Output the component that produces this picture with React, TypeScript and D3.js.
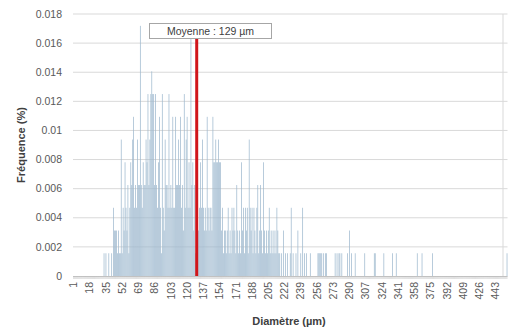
import React from "react";
import * as d3 from "d3";

// Diameter classes (µm), one bar per integer class
const firstDiameter = 1;
const lastDiameter = 455;
const sampleSize = 640;

// Non-empty classes and their particle counts (frequency = count / sampleSize)
const diameters = [
  33, 35, 38, 41, 43, 44, 45, 46, 47, 48, 49, 50, 51, 52, 53, 54, 55, 56, 57, 58, 59, 60,
  61, 62, 63, 64, 65, 66, 67, 68, 69, 70, 71, 72, 73, 74, 75, 76, 77, 78, 79, 80,
  81, 82, 83, 84, 85, 86, 87, 88, 89, 90, 91, 92, 93, 94, 95, 96, 97, 98, 99, 100,
  101, 102, 103, 104, 105, 106, 107, 108, 109, 110, 111, 112, 113, 114, 115, 116, 117, 118, 119, 120,
  121, 122, 123, 124, 125, 126, 127, 128, 129, 130, 131, 132, 133, 134, 135, 136, 137, 138, 139, 140,
  141, 142, 143, 144, 145, 146, 147, 148, 149, 150, 151, 152, 153, 154, 155, 156, 157, 158, 159, 160,
  161, 162, 163, 164, 165, 166, 167, 168, 169, 170, 171, 172, 173, 174, 175, 176, 177, 178, 179, 180,
  181, 182, 183, 184, 185, 186, 187, 188, 189, 190, 191, 192, 193, 194, 195, 196, 197, 198, 199, 200,
  201, 202, 203, 204, 205, 206, 207, 208, 209, 210, 211, 212, 213, 214, 215, 216, 217, 219, 221, 223,
  225, 228, 229, 231, 234, 236, 239, 241, 243, 245, 249, 257, 258, 259, 260, 261, 263, 265, 266,
  275, 277, 279, 280, 282, 288, 290, 292, 296, 306, 316, 317, 326, 335, 339, 361, 366, 377, 455,
];
const counts = [
  1, 1, 1, 1, 3, 2, 2, 2, 1, 2, 1, 1, 6, 1, 3, 2, 5, 3, 2, 4, 1, 3,
  5, 4, 6, 7, 3, 4, 3, 6, 4, 4, 11, 4, 3, 5, 4, 4, 6, 5, 8, 4,
  6, 8, 9, 8, 8, 4, 8, 4, 3, 5, 7, 3, 1, 8, 3, 2, 6, 4, 4, 3,
  8, 3, 4, 3, 7, 3, 3, 7, 4, 4, 6, 4, 7, 3, 4, 2, 8, 3, 6, 7,
  3, 5, 3, 11, 4, 5, 2, 4, 1, 2, 3, 2, 3, 5, 3, 6, 3, 2, 3, 2,
  7, 3, 2, 3, 3, 2, 7, 5, 5, 6, 5, 5, 6, 5, 5, 2, 3, 1, 2, 2,
  1, 2, 3, 1, 2, 1, 3, 2, 3, 2, 1, 4, 2, 1, 2, 1, 5, 2, 3, 1,
  3, 2, 3, 1, 6, 3, 2, 3, 1, 3, 2, 1, 3, 4, 1, 2, 4, 2, 1, 5,
  2, 1, 2, 1, 2, 3, 1, 2, 1, 2, 1, 2, 1, 3, 2, 1, 1, 1, 2, 1,
  1, 1, 3, 1, 1, 2, 1, 3, 1, 1, 1, 1, 1, 1, 1, 1, 1, 1, 1,
  1, 1, 1, 1, 1, 1, 2, 1, 1, 1, 1, 1, 1, 1, 1, 1, 1, 1, 1,
];

const yTicks = [0, 0.002, 0.004, 0.006, 0.008, 0.01, 0.012, 0.014, 0.016, 0.018];
const yTickLabels = ["0", "0.002", "0.004", "0.006", "0.008", "0.01", "0.012", "0.014", "0.016", "0.018"];
const xTickLabels = [1, 18, 35, 52, 69, 86, 103, 120, 137, 154, 171, 188, 205, 222, 239, 256, 273, 290, 307, 324, 341, 358, 375, 392, 409, 426, 443];
const meanDiameter = 129;
const meanLabel = "Moyenne : 129 µm";
const yTitle = "Fréquence (%)";
const xTitle = "Diamètre (µm)";

const W = 511;
const H = 327;
const left = 73;
const right = 507.5;
const top = 14;
const bottom = 276;
const font = "'Liberation Sans', Arial, sans-serif";

export default function App() {
  const classes = d3.range(firstDiameter, lastDiameter + 1);
  const x = d3.scaleBand<number>().domain(classes).range([left, right]).padding(0);
  const y = d3.scaleLinear().domain([0, 0.018]).range([bottom, top]);
  const bw = x.bandwidth();
  const cx = (d: number) => (x(d) as number) + bw / 2;

  return (
    <svg width={W} height={H} style={{ position: "absolute", left: 0, top: 0, background: "#fff" }}>
      {/* gridlines */}
      {yTicks.slice(1).map((t) => (
        <line key={"g" + t} x1={left} x2={right} y1={y(t)} y2={y(t)} stroke="#d9d9d9" strokeWidth={1} />
      ))}
      <line x1={right - 4.5} x2={right - 4.5} y1={top} y2={bottom} stroke="#d9d9d9" strokeWidth={1} />
      {/* bars */}
      {diameters.map((d, i) => (
        <rect
          key={"b" + d}
          x={(x(d) as number) + bw * 0.12}
          width={bw * 0.76}
          y={y(counts[i] / sampleSize)}
          height={bottom - y(counts[i] / sampleSize)}
          fill="#9db8ce"
        />
      ))}
      {/* x axis */}
      <line x1={left} x2={right} y1={bottom + 0.5} y2={bottom + 0.5} stroke="#bfbfbf" strokeWidth={1} />
      {classes.map((d) => (
        <line key={"t" + d} x1={cx(d)} x2={cx(d)} y1={bottom} y2={bottom + 3} stroke="#c4c4c4" strokeWidth={0.5} />
      ))}
      {xTickLabels.map((d) => (
        <text
          key={"xl" + d}
          transform={`translate(${cx(d)},${bottom + 6}) rotate(-90)`}
          textAnchor="end"
          dy="0.35em"
          fontFamily={font}
          fontSize={10.5}
          fill="#595959"
        >
          {d}
        </text>
      ))}
      {/* y labels */}
      {yTicks.map((t, i) => (
        <text key={"yl" + t} x={62} y={y(t)} dy="0.35em" textAnchor="end" fontFamily={font} fontSize={10.5} fill="#595959">
          {yTickLabels[i]}
        </text>
      ))}
      {/* mean line */}
      <line x1={cx(meanDiameter) + 1} x2={cx(meanDiameter) + 1} y1={bottom} y2={38} stroke="#d0161b" strokeWidth={3} />
      <rect x={149.5} y={23.5} width={122} height={15} fill="#fff" stroke="#a6a6a6" strokeWidth={1} />
      <text x={210.5} y={31} dy="0.35em" textAnchor="middle" fontFamily={font} fontSize={10.5} fill="#404040">
        {meanLabel}
      </text>
      {/* titles */}
      <text
        transform={`translate(21,145) rotate(-90)`}
        textAnchor="middle"
        dy="0.35em"
        fontFamily={font}
        fontSize={11}
        fontWeight="bold"
        fill="#404040"
      >
        {yTitle}
      </text>
      <text x={289} y={321} dy="0.35em" textAnchor="middle" fontFamily={font} fontSize={11} fontWeight="bold" fill="#404040">
        {xTitle}
      </text>
    </svg>
  );
}
